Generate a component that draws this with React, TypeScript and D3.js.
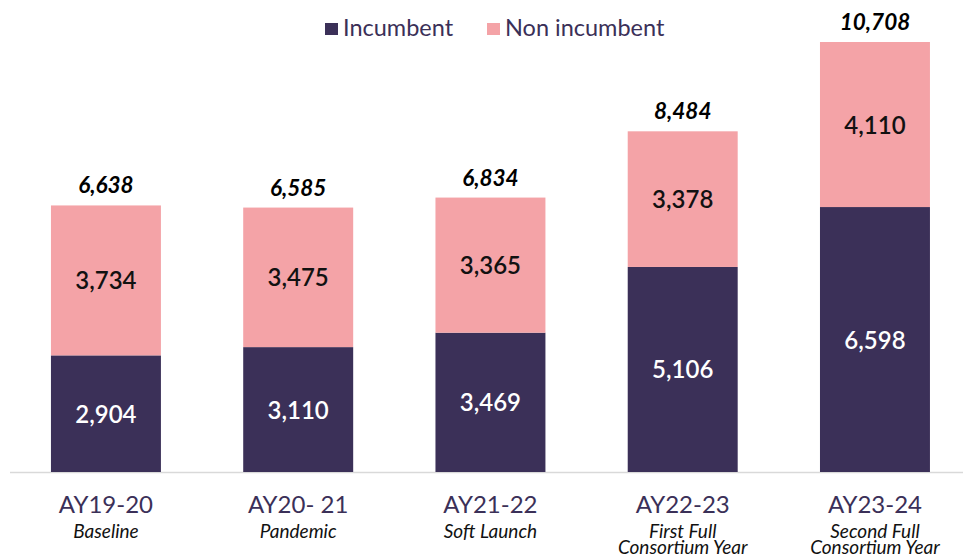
import React, { useEffect, useRef } from "react";
import * as d3 from "d3";

const years = ["AY19-20", "AY20- 21", "AY21-22", "AY22-23", "AY23-24"];
const subLabels = [["Baseline"], ["Pandemic"], ["Soft Launch"], ["First Full", "Consortium Year"], ["Second Full", "Consortium Year"]];
const incumbent = [2904, 3110, 3469, 5106, 6598];
const nonIncumbent = [3734, 3475, 3365, 3378, 4110];
const totals = [6638, 6585, 6834, 8484, 10708];

const DARK = "#3b3058";
const PINK = "#f4a3a7";

export default function App() {
  const ref = useRef<SVGSVGElement>(null);

  useEffect(() => {
    const width = 963;
    const height = 556;
    const baseY = 472;

    const svg = d3.select(ref.current);
    svg.selectAll("*").remove();
    svg.attr("width", width).attr("height", height)
      .style("font-family", "Lato, sans-serif")
      .style("position", "absolute").style("left", "0px").style("top", "0px");

    const x = d3.scaleBand().domain(years).range([12.5, 968.4]).paddingInner(0.428).paddingOuter(0.2);
    const y = d3.scaleLinear().domain([0, d3.max(totals)!]).range([baseY, 42]);

    const rows = years.map((yr, i) => ({ yr, inc: incumbent[i], non: nonIncumbent[i], total: totals[i] }));

    // axis line
    svg.append("line")
      .attr("x1", 10).attr("x2", 963)
      .attr("y1", baseY + 0.5).attr("y2", baseY + 0.5)
      .attr("stroke", "#d9d9d9").attr("stroke-width", 1.5);

    const g = svg.append("g");
    const bars = g.selectAll("g.bar").data(rows).join("g").attr("class", "bar");

    bars.append("rect")
      .attr("x", d => x(d.yr)!)
      .attr("width", x.bandwidth())
      .attr("y", d => y(d.inc))
      .attr("height", d => baseY - y(d.inc))
      .attr("fill", DARK);

    bars.append("rect")
      .attr("x", d => x(d.yr)!)
      .attr("width", x.bandwidth())
      .attr("y", d => y(d.inc + d.non))
      .attr("height", d => y(d.inc) - y(d.inc + d.non))
      .attr("fill", PINK);

    const fmt = d3.format(",");

    bars.append("text")
      .attr("x", d => x(d.yr)! + x.bandwidth() / 2)
      .attr("y", d => (y(d.inc) + baseY) / 2 + 9)
      .attr("text-anchor", "middle")
      .attr("fill", "#fff")
      .attr("font-size", 24)
      .attr("font-weight", 600)
      .text(d => fmt(d.inc));

    bars.append("text")
      .attr("x", d => x(d.yr)! + x.bandwidth() / 2)
      .attr("y", d => (y(d.inc) + y(d.inc + d.non)) / 2 + 9)
      .attr("text-anchor", "middle")
      .attr("fill", "#111")
      .attr("font-size", 24)
      .attr("font-weight", 600)
      .text(d => fmt(d.non));

    bars.append("text")
      .attr("x", d => x(d.yr)! + x.bandwidth() / 2)
      .attr("y", d => y(d.total) - 12)
      .attr("text-anchor", "middle")
      .attr("fill", "#000")
      .attr("font-size", 22.5)
      .attr("font-weight", 700)
      .attr("font-style", "italic")
      .text(d => fmt(d.total));

    // category labels
    const cats = g.selectAll("g.cat").data(years).join("g").attr("class", "cat")
      .attr("transform", d => `translate(${x(d)! + x.bandwidth() / 2},0)`);

    cats.append("text")
      .attr("y", 513)
      .attr("text-anchor", "middle")
      .attr("fill", DARK)
      .attr("font-size", 24)
      .text(d => d);

    cats.each(function (d, i) {
      const lines = subLabels[i];
      d3.select(this).selectAll("text.sub").data(lines).join("text")
        .attr("class", "sub")
        .attr("y", (_, j) => 537.5 + j * 16.5)
        .attr("text-anchor", "middle")
        .attr("fill", "#111")
        .attr("font-size", 19)
        .attr("font-style", "italic")
        .text(t => t);
    });

    // legend
    const legend = svg.append("g");
    const items = [
      { label: "Incumbent", color: DARK, x: 325 },
      { label: "Non incumbent", color: PINK, x: 487 },
    ];
    items.forEach(it => {
      legend.append("rect").attr("x", it.x).attr("y", 23).attr("width", 13).attr("height", 12).attr("fill", it.color);
      legend.append("text").attr("x", it.x + 18).attr("y", 36)
        .attr("fill", DARK).attr("font-size", 23.5).text(it.label);
    });
  }, []);

  return <svg ref={ref}></svg>;
}
